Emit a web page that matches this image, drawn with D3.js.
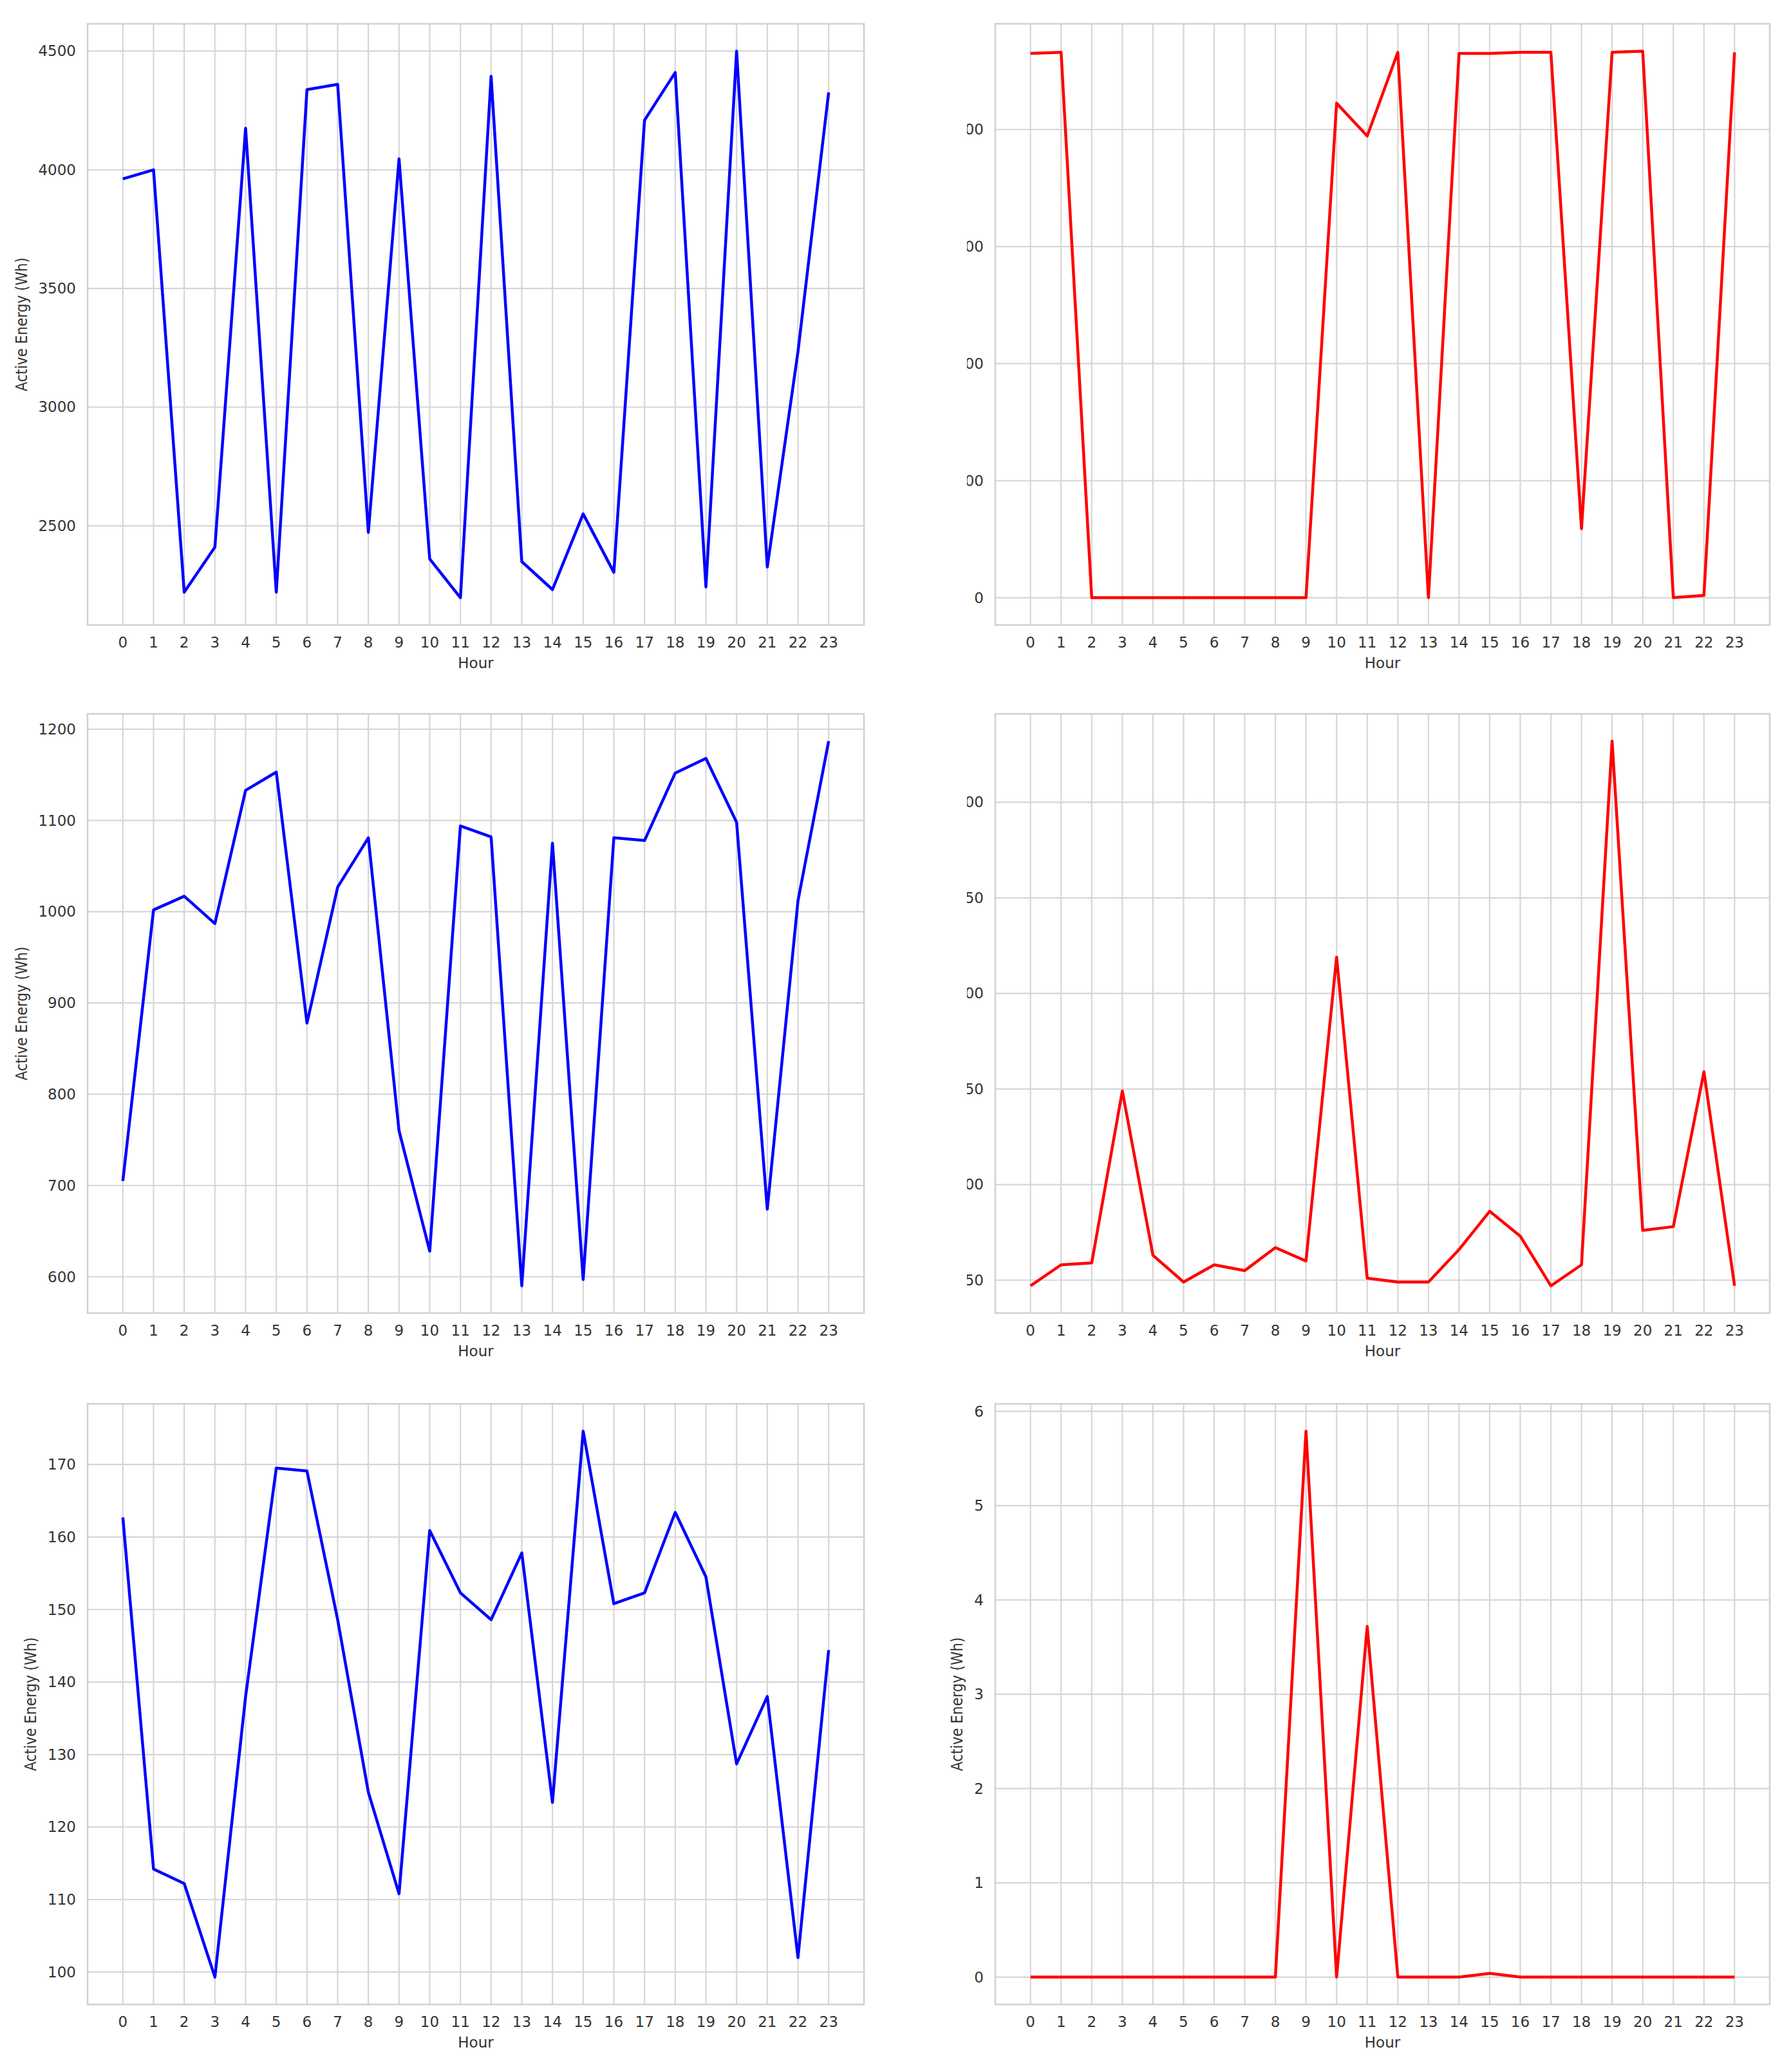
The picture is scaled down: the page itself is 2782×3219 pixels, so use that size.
<!DOCTYPE html>
<html><head><meta charset="utf-8">
<script src="https://cdn.jsdelivr.net/npm/d3@7"></script>
<style>body{margin:0;background:#fff}</style>
</head><body>
<div id="chart"></div>
<script>
const hours = d3.range(24)

// values, one array per panel
const energyA = [3962, 4000, 2220, 2410, 4175, 2220, 4338, 4360, 2472, 4046, 2360, 2197,
  4394, 2349, 2231, 2550, 2304, 4209, 4410, 2242, 4500, 2326, 3234, 4326]
const energyB = [930, 932, 0, 0, 0, 0, 0, 0, 0, 0, 845, 789,
  932, 0, 930, 930, 932, 932, 118, 932, 934, 0, 4, 932]
const energyC = [705, 1002, 1017, 987, 1133, 1153, 878, 1027, 1081, 760, 628, 1094,
  1082, 590, 1075, 597, 1081, 1078, 1152, 1168, 1098, 674, 1012, 1187]
const energyD = [47, 58, 59, 149, 63, 49, 58, 55, 67, 60, 219, 51,
  49, 49, 66, 86, 73, 47, 58, 332, 76, 78, 159, 47]
const energyE = [162.7, 114.2, 112.2, 99.3, 138, 169.5, 169.1, 148.6, 124.8, 110.8, 160.9, 152.3,
  148.6, 157.8, 123.4, 174.6, 150.8, 152.3, 163.4, 154.5, 128.7, 138, 102, 144.4]
const energyF = [0, 0, 0, 0, 0, 0, 0, 0, 0, 5.79, 0, 3.72,
  0, 0, 0, 0.04, 0, 0, 0, 0, 0, 0, 0, 0]

const ticksA = [2500, 3000, 3500, 4000, 4500]
const ticksB = [0, 200, 400, 600, 800]
const ticksC = [600, 700, 800, 900, 1000, 1100, 1200]
const ticksD = [50, 100, 150, 200, 250, 300]
const ticksE = [100, 110, 120, 130, 140, 150, 160, 170]
const ticksF = [0, 1, 2, 3, 4, 5, 6]

let width = 2782
let height = 3219

let svg = d3.select("#chart").append("svg")
  .attr("width", width).attr("height", height)
  .style("font-family", "DejaVu Sans")

// the right column of the top two rows is cut on its left side
svg.append("clipPath").attr("id", "cut")
  .append("rect").attr("x", 1502).attr("y", 0).attr("width", 1300).attr("height", 2160)

const panels = [
  {vals: energyA, ticks: ticksA, color: "#0000ff", x0: 136, x1: 1342, y0: 37, y1: 971, clip: false},
  {vals: energyB, ticks: ticksB, color: "#ff0000", x0: 1546, x1: 2749, y0: 37, y1: 971, clip: true},
  {vals: energyC, ticks: ticksC, color: "#0000ff", x0: 136, x1: 1342, y0: 1109, y1: 2040, clip: false},
  {vals: energyD, ticks: ticksD, color: "#ff0000", x0: 1546, x1: 2749, y0: 1109, y1: 2040, clip: true},
  {vals: energyE, ticks: ticksE, color: "#0000ff", x0: 136, x1: 1342, y0: 2181, y1: 3114, clip: false},
  {vals: energyF, ticks: ticksF, color: "#ff0000", x0: 1546, x1: 2749, y0: 2181, y1: 3114, clip: false}
]

panels.forEach(p => {
  let g = svg.append("g")
  if (p.clip) g.attr("clip-path", "url(#cut)")

  let [lo, hi] = d3.extent(p.vals)
  let pad = (hi - lo) * 0.05
  let x = d3.scaleLinear().domain([-1.15, 24.15]).range([p.x0, p.x1])
  let y = d3.scaleLinear().domain([lo - pad, hi + pad]).range([p.y1, p.y0])

  // grid
  g.selectAll(".vg").data(hours).enter().append("line")
    .attr("x1", d => x(d)).attr("x2", d => x(d))
    .attr("y1", p.y0).attr("y2", p.y1)
    .attr("stroke", "#d6d6d6").attr("stroke-width", 2.2)
  g.selectAll(".hg").data(p.ticks).enter().append("line")
    .attr("x1", p.x0).attr("x2", p.x1)
    .attr("y1", d => y(d)).attr("y2", d => y(d))
    .attr("stroke", "#d6d6d6").attr("stroke-width", 2.2)

  // frame
  g.append("rect").attr("x", p.x0).attr("y", p.y0)
    .attr("width", p.x1 - p.x0).attr("height", p.y1 - p.y0)
    .attr("fill", "none").attr("stroke", "#d0d0d0").attr("stroke-width", 2.5)

  // tick labels
  g.selectAll(".xt").data(hours).enter().append("text")
    .attr("x", d => x(d)).attr("y", p.y1 + 35)
    .attr("text-anchor", "middle").attr("font-size", 23).attr("fill", "#333")
    .text(d => d)
  g.selectAll(".yt").data(p.ticks).enter().append("text")
    .attr("x", p.x0 - 18).attr("y", d => y(d) + 8)
    .attr("text-anchor", "end").attr("font-size", 23).attr("fill", "#333")
    .text(d => d)

  g.append("text")
    .attr("x", (p.x0 + p.x1) / 2).attr("y", p.y1 + 67)
    .attr("text-anchor", "middle").attr("font-size", 23).attr("fill", "#333")
    .text("Hour")

  let lw = d3.max(p.ticks, t => String(t).length) * 14.6
  g.append("text")
    .attr("transform", `translate(${p.x0 - lw - 36},${(p.y0 + p.y1) / 2}) rotate(-90)`)
    .attr("text-anchor", "middle").attr("font-size", 24).attr("fill", "#333")
    .style("font-family", "Liberation Sans Narrow, DejaVu Sans Condensed, sans-serif")
    .text("Active Energy (Wh)")

  let line = d3.line().x((d, i) => x(hours[i])).y(d => y(d))
  g.append("path").datum(p.vals)
    .attr("d", line).attr("fill", "none")
    .attr("stroke", p.color).attr("stroke-width", 4.5)
    .attr("stroke-linejoin", "round")
})
</script>
</body></html>
